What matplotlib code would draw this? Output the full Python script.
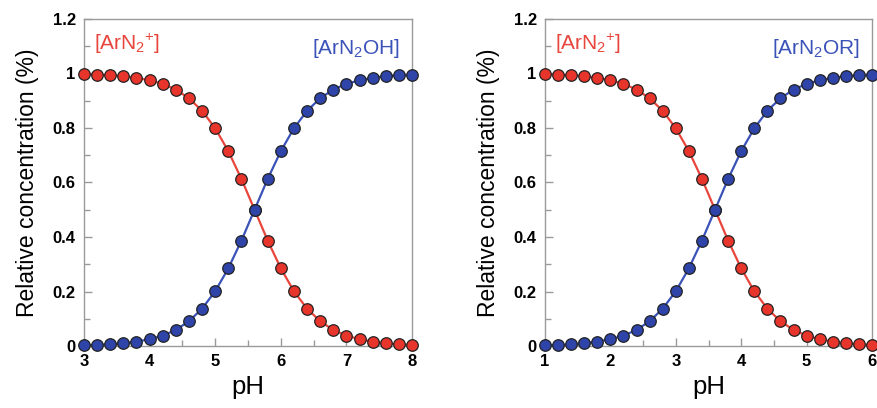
import matplotlib
matplotlib.use("Agg")
import matplotlib.pyplot as plt
from matplotlib.ticker import MultipleLocator, FuncFormatter

plt.rcParams['font.family'] = ['Liberation Sans', 'DejaVu Sans']
plt.rcParams['mathtext.fontset'] = 'custom'
plt.rcParams['mathtext.rm'] = 'Liberation Sans'
plt.rcParams['mathtext.it'] = 'Liberation Sans:italic'
plt.rcParams['mathtext.bf'] = 'Liberation Sans:bold'

# pH values (every 0.2 units)
ph_left = [3.0, 3.2, 3.4, 3.6, 3.8, 4.0, 4.2, 4.4, 4.6, 4.8, 5.0, 5.2, 5.4,
           5.6, 5.8, 6.0, 6.2, 6.4, 6.6, 6.8, 7.0, 7.2, 7.4, 7.6, 7.8, 8.0]
ph_right = [1.0, 1.2, 1.4, 1.6, 1.8, 2.0, 2.2, 2.4, 2.6, 2.8, 3.0, 3.2, 3.4,
            3.6, 3.8, 4.0, 4.2, 4.4, 4.6, 4.8, 5.0, 5.2, 5.4, 5.6, 5.8, 6.0]

# Relative concentration of the diazonium ion
cation = [0.997, 0.996, 0.994, 0.990, 0.984, 0.975, 0.962, 0.941, 0.909,
          0.863, 0.799, 0.715, 0.613, 0.500, 0.387, 0.285, 0.201, 0.137,
          0.091, 0.059, 0.038, 0.025, 0.016, 0.010, 0.006, 0.004]
# Relative concentration of the neutral species
neutral = [0.003, 0.004, 0.006, 0.010, 0.016, 0.025, 0.038, 0.059, 0.091,
           0.137, 0.201, 0.285, 0.387, 0.500, 0.613, 0.715, 0.799, 0.863,
           0.909, 0.941, 0.962, 0.975, 0.984, 0.990, 0.994, 0.996]

left_labels = ['[ArN$_2$$^{+}$]', '[ArN$_2$OH]']
right_labels = ['[ArN$_2$$^{+}$]', '[ArN$_2$OR]']

RED = '#e8352b'
RED_LINE = '#e8453c'
BLUE = '#2f44a8'
BLUE_LINE = '#3b52b8'
GREY = '#9a9a9a'

fig = plt.figure(figsize=(8.77, 4.08), dpi=100)
W, H = 877, 408
ax1 = fig.add_axes([84 / W, 1 - 346 / H, 328 / W, 327 / H])
ax2 = fig.add_axes([545 / W, 1 - 346 / H, 327 / W, 327 / H])


def fmt(v, pos):
    s = f"{v:.1f}"
    if s.endswith('.0'):
        s = s[:-2]
    return s


def style(ax, ph, labels):
    ax.plot(ph, cation, '-', color=RED_LINE, lw=1.6, zorder=2)
    ax.plot(ph, neutral, '-', color=BLUE_LINE, lw=1.6, zorder=2)
    ax.plot(ph, cation, 'o', ms=8.3, mfc=RED, mec='#222222', mew=0.9,
            zorder=3, clip_on=False)
    ax.plot(ph, neutral, 'o', ms=8.3, mfc=BLUE, mec='#222222', mew=0.9,
            zorder=3, clip_on=False)
    ax.set_xlim(ph[0], ph[-1])
    ax.set_ylim(0, 1.2)
    ax.xaxis.set_major_locator(MultipleLocator(1))
    ax.xaxis.set_minor_locator(MultipleLocator(0.5))
    ax.yaxis.set_major_locator(MultipleLocator(0.2))
    ax.yaxis.set_minor_locator(MultipleLocator(0.1))
    ax.yaxis.set_major_formatter(FuncFormatter(fmt))
    ax.tick_params(which='both', direction='in', color=GREY, width=1.0)
    ax.tick_params(which='major', length=6, labelsize=12, pad=6)
    ax.tick_params(which='minor', length=4)
    for lab in ax.get_xticklabels() + ax.get_yticklabels():
        lab.set_fontweight('bold')
    for sp in ax.spines.values():
        sp.set_color(GREY)
        sp.set_linewidth(1.0)
    ax.set_xlabel('pH', fontsize=18.5, labelpad=4)
    ax.set_ylabel('Relative concentration (%)', fontsize=16.5, labelpad=10)
    ax.text(0.03, 0.925, labels[0], transform=ax.transAxes, color=RED_LINE,
            fontsize=15, ha='left', va='center')
    ax.text(0.965, 0.91, labels[1], transform=ax.transAxes, color=BLUE_LINE,
            fontsize=15, ha='right', va='center')


style(ax1, ph_left, left_labels)
style(ax2, ph_right, right_labels)

fig.savefig('out.png', dpi=100)
